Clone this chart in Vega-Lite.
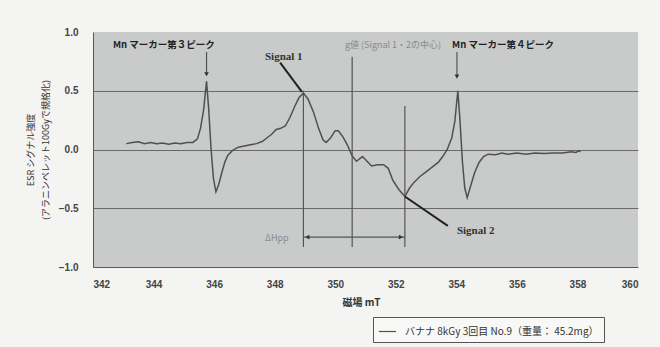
{
  "$schema": "https://vega.github.io/schema/vega-lite/v6.json",
  "autosize": {"type": "none"},
  "padding": {"left": 93, "top": 32, "right": 22, "bottom": 80},
  "width": 545,
  "height": 235,
  "background": "#f4f4f2",
  "config": {
    "view": {"fill": "#c8cbca", "stroke": null},
    "font": "Noto Sans CJK JP",
    "axis": {"labelColor": "#444", "labelFontWeight": "bold", "labelFontSize": 10, "labelFont": "Liberation Sans", "domainColor": "#5a5a5a", "ticks": false, "titleColor": "#333"}
  },
  "layer": [
    {
      "data": {"values": [
        {"x": 343.1, "y": 0.05}, {"x": 343.3, "y": 0.06}, {"x": 343.5, "y": 0.065}, {"x": 343.7, "y": 0.05},
        {"x": 343.9, "y": 0.06}, {"x": 344.1, "y": 0.05}, {"x": 344.3, "y": 0.055}, {"x": 344.5, "y": 0.045},
        {"x": 344.7, "y": 0.055}, {"x": 344.9, "y": 0.05}, {"x": 345.1, "y": 0.06}, {"x": 345.3, "y": 0.06},
        {"x": 345.45, "y": 0.09}, {"x": 345.55, "y": 0.18}, {"x": 345.65, "y": 0.33}, {"x": 345.75, "y": 0.58},
        {"x": 345.82, "y": 0.35}, {"x": 345.9, "y": 0.0}, {"x": 345.98, "y": -0.25}, {"x": 346.06, "y": -0.36},
        {"x": 346.15, "y": -0.3}, {"x": 346.25, "y": -0.2}, {"x": 346.35, "y": -0.11}, {"x": 346.45, "y": -0.05},
        {"x": 346.6, "y": -0.01}, {"x": 346.8, "y": 0.02}, {"x": 347.0, "y": 0.03}, {"x": 347.2, "y": 0.04},
        {"x": 347.4, "y": 0.05}, {"x": 347.6, "y": 0.07}, {"x": 347.75, "y": 0.1}, {"x": 347.9, "y": 0.13},
        {"x": 348.05, "y": 0.17}, {"x": 348.2, "y": 0.18}, {"x": 348.35, "y": 0.2}, {"x": 348.5, "y": 0.27},
        {"x": 348.65, "y": 0.36}, {"x": 348.8, "y": 0.44}, {"x": 348.95, "y": 0.48}, {"x": 349.1, "y": 0.43},
        {"x": 349.28, "y": 0.32}, {"x": 349.45, "y": 0.18}, {"x": 349.6, "y": 0.08}, {"x": 349.7, "y": 0.06},
        {"x": 349.85, "y": 0.1}, {"x": 350.0, "y": 0.16}, {"x": 350.1, "y": 0.16}, {"x": 350.25, "y": 0.11},
        {"x": 350.4, "y": 0.04}, {"x": 350.55, "y": -0.05}, {"x": 350.7, "y": -0.1}, {"x": 350.9, "y": -0.06},
        {"x": 351.05, "y": -0.1}, {"x": 351.2, "y": -0.14}, {"x": 351.4, "y": -0.13}, {"x": 351.6, "y": -0.13},
        {"x": 351.75, "y": -0.16}, {"x": 351.9, "y": -0.26}, {"x": 352.1, "y": -0.34}, {"x": 352.3, "y": -0.4},
        {"x": 352.45, "y": -0.33}, {"x": 352.6, "y": -0.28}, {"x": 352.8, "y": -0.23}, {"x": 353.0, "y": -0.19},
        {"x": 353.2, "y": -0.15}, {"x": 353.4, "y": -0.11}, {"x": 353.55, "y": -0.06}, {"x": 353.7, "y": 0.0},
        {"x": 353.85, "y": 0.1}, {"x": 353.95, "y": 0.24}, {"x": 354.05, "y": 0.5}, {"x": 354.12, "y": 0.25},
        {"x": 354.2, "y": -0.1}, {"x": 354.28, "y": -0.33}, {"x": 354.36, "y": -0.41}, {"x": 354.45, "y": -0.33},
        {"x": 354.6, "y": -0.2}, {"x": 354.75, "y": -0.11}, {"x": 354.9, "y": -0.06}, {"x": 355.05, "y": -0.04},
        {"x": 355.3, "y": -0.045}, {"x": 355.5, "y": -0.03}, {"x": 355.7, "y": -0.04}, {"x": 356.0, "y": -0.03},
        {"x": 356.3, "y": -0.04}, {"x": 356.6, "y": -0.03}, {"x": 356.9, "y": -0.035}, {"x": 357.2, "y": -0.03},
        {"x": 357.5, "y": -0.03}, {"x": 357.8, "y": -0.02}, {"x": 357.95, "y": -0.025}, {"x": 358.05, "y": -0.01},
        {"x": 358.1, "y": -0.02}
      ]},
      "transform": [{"calculate": "'バナナ 8kGy 3回目 No.9（重量： 45.2mg）'", "as": "series"}],
      "mark": {"type": "line", "strokeWidth": 1.5},
      "encoding": {
        "x": {"field": "x", "type": "quantitative", "scale": {"domain": [342, 360], "nice": false},
          "axis": {"values": [342, 344, 346, 348, 350, 352, 354, 356, 358, 360], "format": "d", "labelPadding": 12, "grid": false,
            "title": "磁場 mT", "titleFontSize": 10, "titleFontWeight": "bold", "titlePadding": 8, "titleX": 268}},
        "y": {"field": "y", "type": "quantitative", "scale": {"domain": [-1, 1], "nice": false},
          "axis": {"values": [-1, -0.5, 0, 0.5, 1], "format": ".1f", "labelPadding": 15, "grid": true, "gridColor": "#6a6a6a",
            "gridOpacity": {"condition": {"test": "abs(datum.value) > 0.9", "value": 0}, "value": 1},
            "title": ["ESR シグナル強度", "(アラニンペレット100Gyで規格化)"], "titleFontSize": 9, "titleFontWeight": "normal", "titlePadding": 8, "titleLineHeight": 15}},
        "color": {"field": "series", "type": "nominal", "scale": {"range": ["#505050"]},
          "legend": {"orient": "none", "legendX": 280, "legendY": 285, "title": null, "strokeColor": "#555", "fillColor": "#f8f8f6",
            "padding": 5, "symbolType": "stroke", "symbolSize": 300, "symbolStrokeWidth": 1.2, "labelFontSize": 10,
            "labelFont": "Noto Sans CJK JP", "labelColor": "#333", "labelLimit": 400, "labelOffset": 8}}
      }
    },
    {
      "data": {"values": [
        {"x": 348.95, "y": 0.5, "x2": 348.95, "y2": -0.83},
        {"x": 350.56, "y": 0.79, "x2": 350.56, "y2": -0.83},
        {"x": 352.3, "y": 0.37, "x2": 352.3, "y2": -0.83},
        {"x": 348.95, "y": -0.745, "x2": 352.3, "y2": -0.745},
        {"x": 345.75, "y": 0.83, "x2": 345.75, "y2": 0.65},
        {"x": 354.02, "y": 0.83, "x2": 354.02, "y2": 0.63}
      ]},
      "mark": {"type": "rule", "color": "#555", "strokeWidth": 1.2},
      "encoding": {
        "x": {"field": "x", "type": "quantitative"}, "y": {"field": "y", "type": "quantitative"},
        "x2": {"field": "x2"}, "y2": {"field": "y2"}
      }
    },
    {
      "data": {"values": [
        {"x": 348.18, "y": 0.74, "x2": 348.9, "y2": 0.49},
        {"x": 352.3, "y": -0.4, "x2": 353.72, "y2": -0.65}
      ]},
      "mark": {"type": "rule", "color": "#222", "strokeWidth": 2},
      "encoding": {
        "x": {"field": "x", "type": "quantitative"}, "y": {"field": "y", "type": "quantitative"},
        "x2": {"field": "x2"}, "y2": {"field": "y2"}
      }
    },
    {
      "data": {"values": [
        {"x": 345.75, "y": 0.64, "dir": "d"},
        {"x": 354.02, "y": 0.62, "dir": "d"},
        {"x": 349.08, "y": -0.745, "dir": "l"},
        {"x": 352.17, "y": -0.745, "dir": "r"}
      ]},
      "mark": {"type": "point", "filled": true, "size": 22, "color": "#333", "opacity": 1},
      "encoding": {
        "x": {"field": "x", "type": "quantitative"}, "y": {"field": "y", "type": "quantitative"},
        "shape": {"field": "dir", "type": "nominal", "scale": {"domain": ["d", "l", "r"], "range": ["triangle-down", "triangle-left", "triangle-right"]}, "legend": null}
      }
    },
    {
      "data": {"values": [
        {"x": 342.66, "y": 0.89, "t": "Mn マーカー第３ピーク"},
        {"x": 353.86, "y": 0.89, "t": "Mn マーカー第４ピーク"}
      ]},
      "mark": {"type": "text", "align": "left", "baseline": "middle", "font": "Noto Sans CJK JP", "fontWeight": "bold", "fontSize": 9.5, "color": "#222"},
      "encoding": {"x": {"field": "x", "type": "quantitative"}, "y": {"field": "y", "type": "quantitative"}, "text": {"field": "t"}}
    },
    {
      "data": {"values": [
        {"x": 347.68, "y": 0.79, "t": "Signal 1"},
        {"x": 354.02, "y": -0.69, "t": "Signal 2"}
      ]},
      "mark": {"type": "text", "align": "left", "baseline": "middle", "font": "Liberation Serif", "fontWeight": "bold", "fontSize": 11, "color": "#333"},
      "encoding": {"x": {"field": "x", "type": "quantitative"}, "y": {"field": "y", "type": "quantitative"}, "text": {"field": "t"}}
    },
    {
      "data": {"values": [
        {"x": 350.32, "y": 0.89, "t": "g値 (Signal 1・2の中心)"},
        {"x": 347.68, "y": -0.75, "t": "ΔHpp"}
      ]},
      "mark": {"type": "text", "align": "left", "baseline": "middle", "font": "Noto Sans CJK JP", "fontSize": 9, "color": "#8a8a8a"},
      "encoding": {"x": {"field": "x", "type": "quantitative"}, "y": {"field": "y", "type": "quantitative"}, "text": {"field": "t"}}
    }
  ]
}
